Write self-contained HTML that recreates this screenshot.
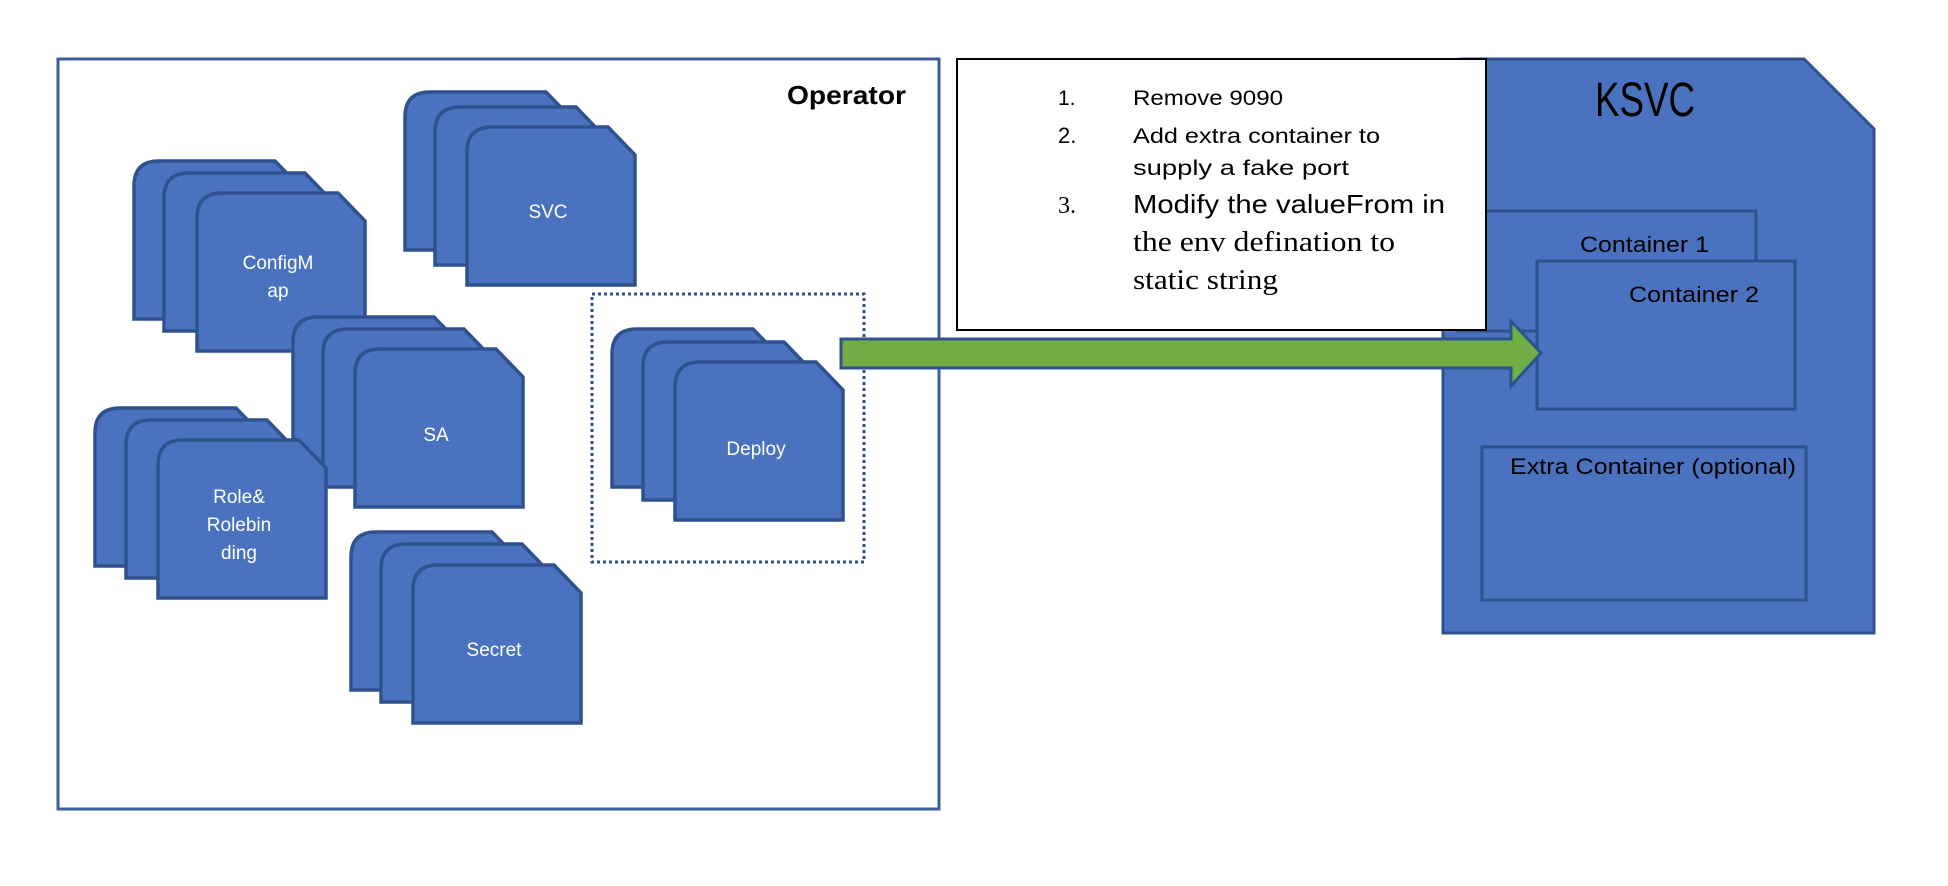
<!DOCTYPE html>
<html><head><meta charset="utf-8"><style>
html,body{margin:0;padding:0;background:#fff;}
svg{display:block;}
text{font-family:"Liberation Sans",sans-serif;}
</style></head><body>
<svg width="1948" height="886" viewBox="0 0 1948 886" xmlns="http://www.w3.org/2000/svg">
<defs>
<path id="doc" d="M0,158 V25 Q0,0 25,0 H141 L168,28 V158 Z" fill="#4a72be" stroke="#2f528f" stroke-width="3.5"/>
</defs>
<rect x="58" y="59" width="881" height="750" fill="#fff" stroke="#3c5f9c" stroke-width="3"/>
<text x="787" y="104" font-size="26" font-weight="bold" fill="#000" textLength="119" lengthAdjust="spacingAndGlyphs">Operator</text>

<use href="#doc" x="134" y="161"/><use href="#doc" x="164" y="173"/><use href="#doc" x="197" y="193"/>
<text x="278" y="269" font-size="19" fill="#fff" text-anchor="middle">ConfigM</text>
<text x="278" y="297" font-size="19" fill="#fff" text-anchor="middle">ap</text>
<use href="#doc" x="405" y="92"/><use href="#doc" x="435" y="107"/><use href="#doc" x="467" y="127"/>
<text x="548" y="218" font-size="19" fill="#fff" text-anchor="middle">SVC</text>
<use href="#doc" x="293" y="317"/><use href="#doc" x="323" y="329"/><use href="#doc" x="355" y="349"/>
<text x="436" y="441" font-size="19" fill="#fff" text-anchor="middle">SA</text>
<use href="#doc" x="95" y="408"/><use href="#doc" x="126" y="420"/><use href="#doc" x="158" y="440"/>
<text x="239" y="503" font-size="19" fill="#fff" text-anchor="middle">Role&amp;</text>
<text x="239" y="531" font-size="19" fill="#fff" text-anchor="middle">Rolebin</text>
<text x="239" y="559" font-size="19" fill="#fff" text-anchor="middle">ding</text>
<use href="#doc" x="351" y="532"/><use href="#doc" x="381" y="544"/><use href="#doc" x="413" y="565"/>
<text x="494" y="656" font-size="19" fill="#fff" text-anchor="middle">Secret</text>
<use href="#doc" x="612" y="329"/><use href="#doc" x="643" y="342"/><use href="#doc" x="675" y="362"/>
<text x="756" y="455" font-size="19" fill="#fff" text-anchor="middle">Deploy</text>
<rect x="592" y="294" width="272" height="268" fill="none" stroke="#2f528f" stroke-width="3" stroke-dasharray="3,3"/>

<path d="M1443,633 V78 Q1443,59 1462,59 H1804 L1874,129 V633 Z" fill="#4a72be" stroke="#2f528f" stroke-width="3"/>
<text x="1595" y="116" font-size="48" fill="#000" textLength="100" lengthAdjust="spacingAndGlyphs">KSVC</text>
<rect x="1458" y="211" width="298" height="120" fill="#4a72be" stroke="#2f528f" stroke-width="3"/>
<text x="1580" y="252" font-size="22" fill="#000" textLength="129" lengthAdjust="spacingAndGlyphs">Container 1</text>
<rect x="1537" y="261" width="258" height="148" fill="#4a72be" stroke="#2f528f" stroke-width="3"/>
<text x="1629" y="302" font-size="22" fill="#000" textLength="130" lengthAdjust="spacingAndGlyphs">Container 2</text>
<rect x="1482" y="447" width="324" height="153" fill="#4a72be" stroke="#2f528f" stroke-width="3"/>
<text x="1510" y="474" font-size="22" fill="#000" textLength="286" lengthAdjust="spacingAndGlyphs">Extra Container (optional)</text>

<rect x="957" y="59" width="529" height="271" fill="#fff" stroke="#000" stroke-width="2"/>
<text x="1058" y="105" font-size="21" fill="#000">1.</text>
<text x="1133" y="105" font-size="21" fill="#000" textLength="150" lengthAdjust="spacingAndGlyphs">Remove 9090</text>
<text x="1058" y="143" font-size="22" fill="#000">2.</text>
<text x="1133" y="143" font-size="21" fill="#000" textLength="247" lengthAdjust="spacingAndGlyphs">Add extra container to</text>
<text x="1133" y="175" font-size="21" fill="#000" textLength="216" lengthAdjust="spacingAndGlyphs">supply a fake port</text>
<text x="1058" y="213" font-size="24" fill="#000" style="font-family:'Liberation Serif',serif">3.</text>
<text x="1133" y="213" font-size="26" fill="#000" textLength="312" lengthAdjust="spacingAndGlyphs">Modify the valueFrom in</text>
<text x="1133" y="251" font-size="28" fill="#000" style="font-family:'Liberation Serif',serif" textLength="262" lengthAdjust="spacingAndGlyphs">the env defination to</text>
<text x="1133" y="289" font-size="28" fill="#000" style="font-family:'Liberation Serif',serif" textLength="145" lengthAdjust="spacingAndGlyphs">static string</text>

<path d="M841,339 H1511 V321 L1541,353 L1511,386 V368 H841 Z" fill="#70ad47" stroke="#2f528f" stroke-width="3"/>
</svg>
</body></html>
